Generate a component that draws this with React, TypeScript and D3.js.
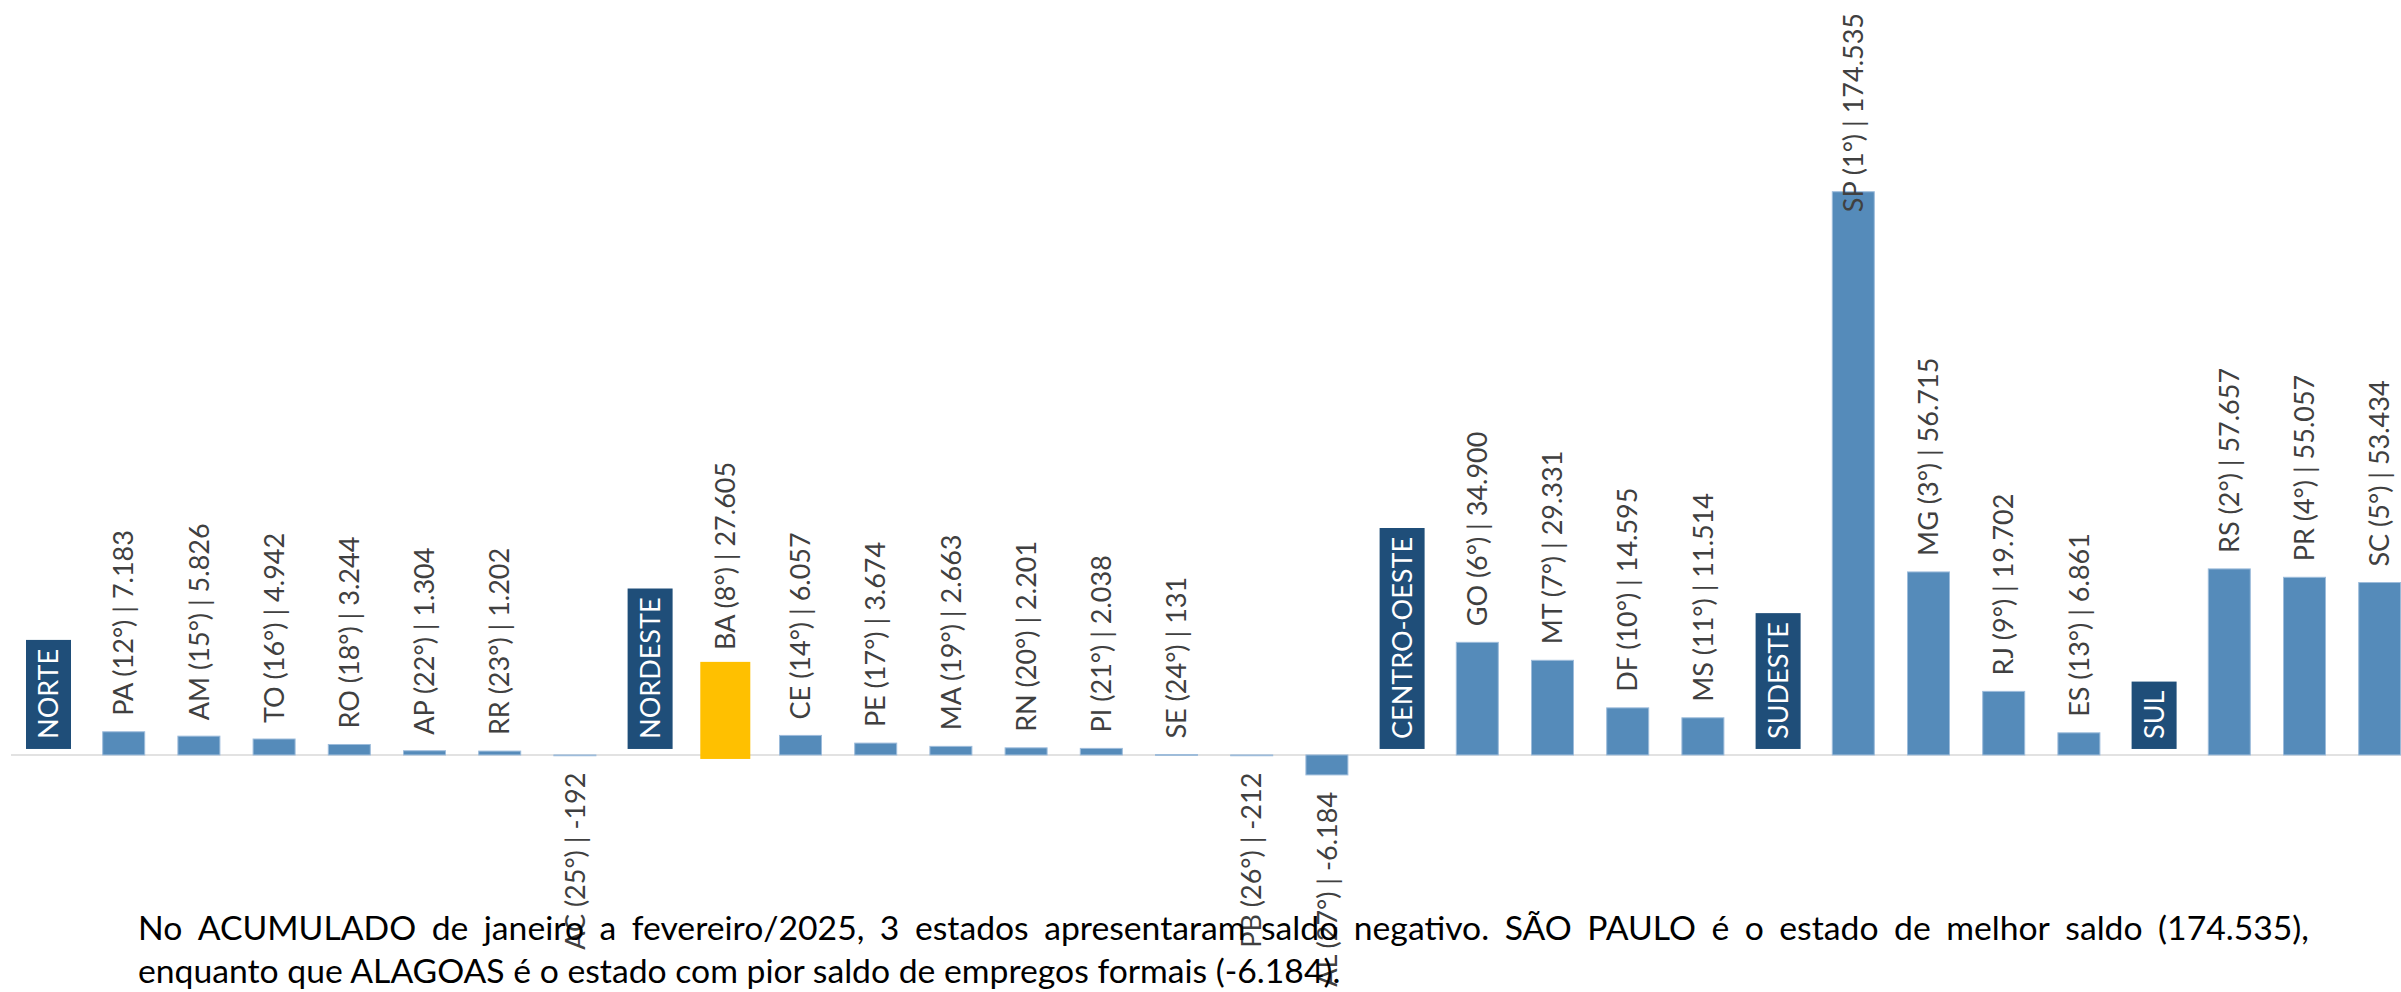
import React, { useEffect, useRef } from "react";
import * as d3 from "d3";

const categories = ["NORTE","PA","AM","TO","RO","AP","RR","AC","NORDESTE","BA","CE","PE","MA","RN","PI","SE","PB","AL","CENTRO-OESTE","GO","MT","DF","MS","SUDESTE","SP","MG","RJ","ES","SUL","RS","PR","SC"];
const values = [0,7183,5826,4942,3244,1304,1202,-192,0,27605,6057,3674,2663,2201,2038,131,-212,-6184,0,34900,29331,14595,11514,0,174535,56715,19702,6861,0,57657,55057,53434];
const ranks: (number | null)[] = [null,12,15,16,18,22,23,25,null,8,14,17,19,20,21,24,26,27,null,6,7,10,11,null,1,3,9,13,null,2,4,5];
const highlight = ["BA"];
const footerLines = [
  "No ACUMULADO de janeiro a fevereiro/2025, 3 estados apresentaram saldo negativo. SÃO PAULO é o estado de melhor saldo (174.535),",
  "enquanto que ALAGOAS é o estado com pior saldo de empregos formais (-6.184).",
];

const W = 2401;
const H = 992;
const FONT = "Lato, 'Open Sans', sans-serif";
const LABEL_SIZE = 27;
const CAP = 0.72 * LABEL_SIZE;

const fmt = (v: number) => {
  const s = Math.abs(v).toString().replace(/\B(?=(\d{3})+(?!\d))/g, ".");
  return (v < 0 ? "-" : "") + s;
};

export default function App() {
  const ref = useRef<SVGSVGElement>(null);
  useEffect(() => {
    const svg = d3.select(ref.current);
    svg.selectAll("*").remove();
    const pi = 1 - 42 / 75.2;
    const x = d3.scaleBand<string>().domain(categories).range([10.9, 2417.3]).paddingInner(pi).paddingOuter(pi / 2);
    const y = d3.scaleLinear().domain([-20000, 180000]).range([819.5, 174.1]);
    const y0 = y(0);

    svg.append("line").attr("x1", 11).attr("x2", W).attr("y1", y0).attr("y2", y0)
      .attr("stroke", "#D9D9D9").attr("stroke-width", 1.5);

    const data = categories.map((c, i) => ({ c, v: values[i], r: ranks[i] }));

    data.filter(d => d.r !== null).forEach(d => {
      const hl = highlight.includes(d.c);
      const top = Math.min(y(d.v), y0);
      const h = Math.abs(y(d.v) - y0);
      svg.append("rect")
        .attr("x", x(d.c)!).attr("width", x.bandwidth())
        .attr("y", top).attr("height", Math.max(h, 0.8))
        .attr("fill", hl ? "#FFC000" : "#558BBA")
        .attr("stroke", hl ? "#FFC000" : "#9DBCDB")
        .attr("stroke-width", hl ? 8 : 1);
    });

    data.forEach(d => {
      const cx = x(d.c)! + x.bandwidth() / 2;
      const isRegion = d.r === null;
      const txt = isRegion ? d.c : `${d.c} (${d.r}°) | ${fmt(d.v)}`;
      const g = svg.append("g");
      const t = g.append("text")
        .attr("font-family", FONT).attr("font-size", LABEL_SIZE)
        .attr("fill", isRegion ? "#FFFFFF" : "#404040")
        .text(txt);
      const len = (t.node() as SVGTextElement).getComputedTextLength();
      let yStart: number;
      if (d.v >= 0) {
        yStart = y(d.v) - 16;
        if (yStart - len < 13) yStart = 13 + len;
      } else {
        yStart = Math.min(y(d.v) + 17 + len, H - 4);
      }
      t.attr("transform", `translate(${cx + CAP / 2},${yStart}) rotate(-90)`);
      if (isRegion) {
        g.insert("rect", "text")
          .attr("x", cx - 22.5).attr("width", 45)
          .attr("y", yStart - len - 9).attr("height", len + 19)
          .attr("fill", "#1F4E79");
      }
    });

    const left = 138, right = 2309;
    const probe = svg.append("text").attr("font-family", FONT).attr("font-size", 30).text(footerLines[1]);
    const natural = (probe.node() as SVGTextElement).getComputedTextLength();
    probe.remove();
    const fsize = 30 * 1203 / natural;
    const words = footerLines[0].split(" ");
    const widths = words.map(w => {
      const p = svg.append("text").attr("font-family", FONT).attr("font-size", fsize).text(w);
      const wl = (p.node() as SVGTextElement).getComputedTextLength();
      p.remove();
      return wl;
    });
    const gap = (right - left - d3.sum(widths)) / (words.length - 1);
    let cursor = left;
    const fg = svg.append("g").attr("font-family", FONT).attr("font-size", fsize).attr("fill", "#000");
    words.forEach((w, i) => {
      fg.append("text").attr("x", cursor).attr("y", 940).text(w);
      cursor += widths[i] + gap;
    });
    fg.append("text").attr("x", left).attr("y", 983).text(footerLines[1]);
  }, []);
  return (
    <svg ref={ref} width={W} height={H} style={{ position: "absolute", left: 0, top: 0, display: "block", background: "#fff" }} />
  );
}
